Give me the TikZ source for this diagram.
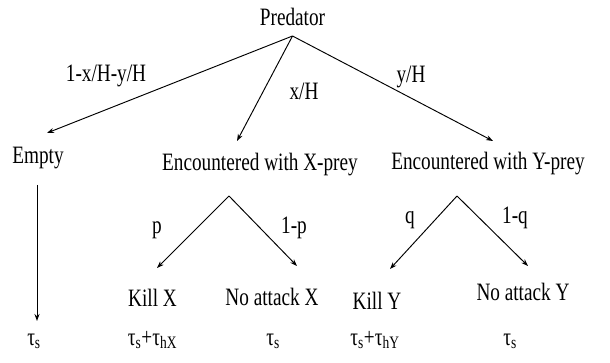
\documentclass[tikz,border=0pt]{standalone}
\usepackage{fontspec}
\setmainfont[FakeStretch=0.77]{Liberation Serif}
\usetikzlibrary{arrows.meta,calc}
\begin{document}
\begin{tikzpicture}[x=1pt,y=-1pt,
  lbl/.style={anchor=base,inner sep=0pt,font=\fontsize{25}{28}\selectfont},
  arr/.style={line width=0.95pt,-{Stealth[length=7pt,width=5pt]}}]
\useasboundingbox (0,0) rectangle (610,363);
% nodes
\node[lbl] (pred) at (292.5,26) {Predator};
\node[lbl] (empty) at (38,164) {Empty};
\node[lbl] (encx) at (260,170.5) {Encountered with X-prey};
\node[lbl] (ency) at (488,169.5) {Encountered with Y-prey};
\node[lbl] (killx) at (152.5,306.5) {Kill X};
\node[lbl] (nax) at (272,305) {No attack X};
\node[lbl] (killy) at (377,309) {Kill Y};
\node[lbl] (nay) at (523,300) {No attack Y};
\node[lbl] (t1) at (34,345) {τ\textsubscript{s}};
\node[lbl] (t2) at (152.5,345) {τ\textsubscript{s}+τ\textsubscript{hX}};
\node[lbl] (t3) at (273,345) {τ\textsubscript{s}};
\node[lbl] (t4) at (375,345) {τ\textsubscript{s}+τ\textsubscript{hY}};
\node[lbl] (t5) at (510,345) {τ\textsubscript{s}};
% edge labels
\node[lbl] (l1) at (106,82) {1-x/H-y/H};
\node[lbl] (l2) at (304,100) {x/H};
\node[lbl] (l3) at (411,83) {y/H};
\node[lbl] (l4) at (157,234) {p};
\node[lbl] (l5) at (294,234) {1-p};
\node[lbl] (l6) at (410,224) {q};
\node[lbl] (l7) at (515,224) {1-q};
% connectors
\draw[arr] ($(pred.base)+(0,10)$) -- ($(empty.base)+(9,-31)$);
\draw[arr] ($(pred.base)+(0,10)$) -- ($(encx.base)+(-23,-29.5)$);
\draw[arr] ($(pred.base)+(0,10)$) -- ($(ency.base)+(5,-28.5)$);
\draw[arr] ($(empty.base)+(-1,21)$) -- ($(t1.base)+(3,-24)$);
\draw[arr] ($(encx.base)+(-31,25.5)$) -- ($(killx.base)+(4.5,-38.5)$);
\draw[arr] ($(encx.base)+(-31,25.5)$) -- ($(nax.base)+(25,-39)$);
\draw[arr] ($(ency.base)+(-31,26.5)$) -- ($(killy.base)+(13,-40)$);
\draw[arr] ($(ency.base)+(-31,26.5)$) -- ($(nay.base)+(5,-34)$);
\end{tikzpicture}
\end{document}
